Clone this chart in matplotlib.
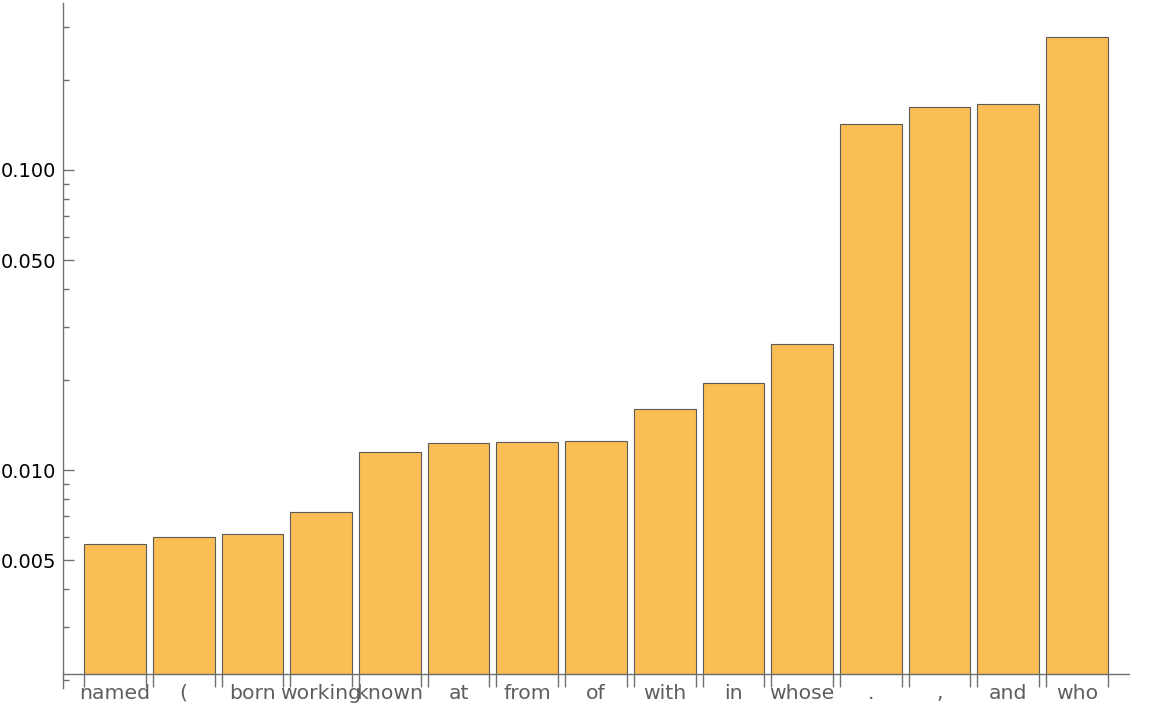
import matplotlib
matplotlib.use("Agg")
import matplotlib.pyplot as plt
from matplotlib.ticker import FixedLocator, NullFormatter
import numpy as np

categories = ["named", "(", "born", "working", "known", "at", "from", "of",
              "with", "in", "whose", ".", ",", "and", "who"]
values = [0.00567, 0.00598, 0.00612, 0.00724, 0.01148, 0.0123, 0.0124, 0.0125,
          0.01597, 0.0195, 0.0263, 0.1423, 0.1622, 0.166, 0.2776]

base = 0.002089
bar_color = "#FABE54"
edge_color = "#5a5a5a"
axis_color = "#707070"

fig = plt.figure(figsize=(11.52, 7.04), dpi=100)
ax = fig.add_axes([63/1152, 1-688/704, (1129-63)/1152, (688-3)/704])
ax.set_yscale("log")

x = np.arange(len(categories))
vals = np.array(values)
ax.bar(x, vals - base, bottom=base, width=0.9, color=bar_color,
       edgecolor=edge_color, linewidth=0.8, zorder=2)

ax.set_ylim(0.001877, 0.3602)
ax.set_xlim(-0.757, len(categories) - 1 + 0.757)

for s in ["top", "right"]:
    ax.spines[s].set_visible(False)
ax.spines["bottom"].set_position(("data", base))
for s in ["left", "bottom"]:
    ax.spines[s].set_color(axis_color)
    ax.spines[s].set_linewidth(1.0)

# y ticks
major = [0.005, 0.01, 0.05, 0.1]
ax.yaxis.set_major_locator(FixedLocator(major))
ax.set_yticklabels(["0.005", "0.010", "0.050", "0.100"])
minor = [0.002, 0.003, 0.004, 0.006, 0.007, 0.008, 0.009,
         0.02, 0.03, 0.04, 0.06, 0.07, 0.08, 0.09, 0.2, 0.3]
ax.yaxis.set_minor_locator(FixedLocator(minor))
ax.yaxis.set_minor_formatter(NullFormatter())
ax.tick_params(axis="y", which="major", direction="in", length=8, width=1,
               color=axis_color, labelsize=14, labelcolor="black", pad=5)
ax.tick_params(axis="y", which="minor", direction="in", length=4, width=1,
               color=axis_color)

# x ticks: labels at centers, tick marks at bar edges
ax.set_xticks(x)
ax.set_xticklabels(categories)
edges = np.concatenate([x - 0.45, x + 0.45])
ax.xaxis.set_minor_locator(FixedLocator(edges))
ax.tick_params(axis="x", which="major", length=0, labelsize=14.7,
               labelcolor="#5f5f5f", pad=7)
ax.tick_params(axis="x", which="minor", direction="out", length=9, width=1,
               color=axis_color)

fig.savefig("out.png", dpi=100)
